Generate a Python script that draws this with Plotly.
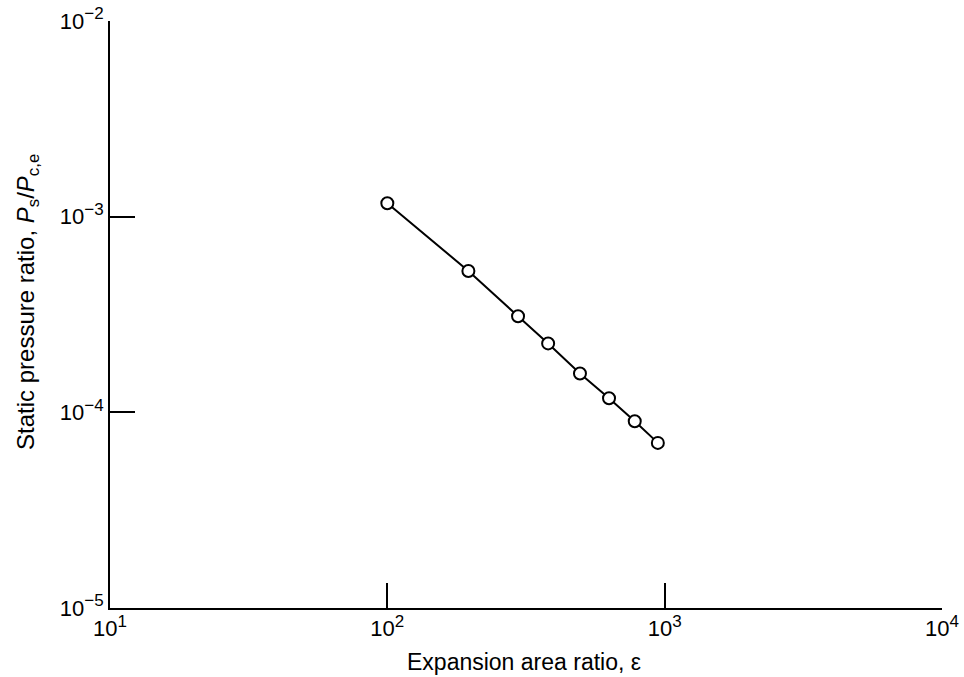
import plotly.graph_objects as go

# Data
expansion_ratio = [100, 196, 296, 380, 495, 630, 780, 945]
pressure_ratio = [1.17e-3, 5.28e-4, 3.10e-4, 2.25e-4, 1.58e-4, 1.18e-4, 9.0e-5, 6.98e-5]

x_tickvals = [10, 100, 1000, 10000]
x_exponents = ["1", "2", "3", "4"]
y_tickvals = [1e-5, 1e-4, 1e-3, 1e-2]
y_exponents = ["\u22125", "\u22124", "\u22123", "\u22122"]

def power_label(exp):
    return "10<sup><span style='font-size:17px'>" + exp + "</span></sup>"

x_ticktext = [power_label(e) for e in x_exponents]
y_ticktext = [power_label(e) for e in y_exponents]

FONT = "Liberation Sans, Arial, Helvetica, sans-serif"

fig = go.Figure()
fig.add_trace(go.Scatter(
    x=expansion_ratio, y=pressure_ratio,
    mode="lines+markers",
    line=dict(color="black", width=2),
    marker=dict(symbol="circle", size=12, color="white",
                line=dict(color="black", width=2)),
    showlegend=False,
))

fig.update_layout(
    width=964, height=677,
    margin=dict(l=110, r=22, t=21, b=69),
    paper_bgcolor="white", plot_bgcolor="white",
    font=dict(family=FONT, color="black", size=22),
    xaxis=dict(
        type="log", range=[1, 4], automargin=False,
        tickvals=x_tickvals, ticktext=x_ticktext,
        ticks="inside", ticklen=25, tickwidth=1.5, tickcolor="black",
        showline=True, linecolor="black", linewidth=2,
        showgrid=False, zeroline=False,
        tickfont=dict(size=22),
    ),
    yaxis=dict(
        type="log", range=[-5, -2], automargin=False,
        tickvals=y_tickvals, ticktext=y_ticktext,
        ticks="inside", ticklen=25, tickwidth=1.5, tickcolor="black",
        showline=True, linecolor="black", linewidth=2,
        showgrid=False, zeroline=False,
        tickfont=dict(size=22),
    ),
    annotations=[
        dict(text="Expansion area ratio, \u03b5", xref="paper", yref="paper",
             x=0.497, y=(608 - 662) / 587, xanchor="center", yanchor="middle",
             showarrow=False, font=dict(size=23)),
        dict(text="Static pressure ratio, <i>P</i><sub>s</sub>/<i>P</i><sub>c,e</sub>",
             xref="paper", yref="paper",
             x=(27 - 110) / 832, y=(608 - 302) / 587, xanchor="center", yanchor="middle",
             textangle=-90, showarrow=False, font=dict(size=24)),
    ],
)

fig.write_html(
    "out.html",
    config={"displayModeBar": False},
    post_script="document.body.style.margin='0';document.body.style.overflow='hidden';",
)
